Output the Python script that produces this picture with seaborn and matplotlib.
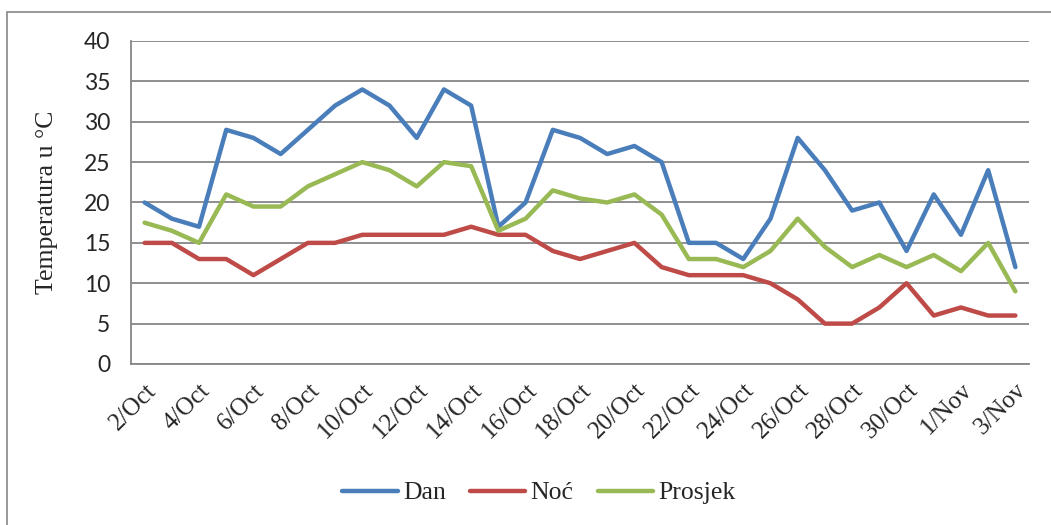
import numpy as np
import pandas as pd
import matplotlib
matplotlib.use("Agg")
import matplotlib.pyplot as plt
import matplotlib.transforms as mtransforms
import seaborn as sns
from matplotlib.patches import Rectangle

# dates 2/Oct .. 3/Nov
days = [f"{d}/Oct" for d in range(2, 32)] + [f"{d}/Nov" for d in range(1, 4)]

dan = [20, 18, 17, 29, 28, 26, 29, 32, 34, 32, 28, 34, 32, 17, 20, 29, 28,
       26, 27, 25, 15, 15, 13, 18, 28, 24, 19, 20, 14, 21, 16, 24, 12]
noc = [15, 15, 13, 13, 11, 13, 15, 15, 16, 16, 16, 16, 17, 16, 16, 14, 13,
       14, 15, 12, 11, 11, 11, 10, 8, 5, 5, 7, 10, 6, 7, 6, 6]
prosjek = [17.5, 16.5, 15, 21, 19.5, 19.5, 22, 23.5, 25, 24, 22, 25, 24.5, 16.5,
           18, 21.5, 20.5, 20, 21, 18.5, 13, 13, 12, 14, 18, 14.5, 12, 13.5, 12,
           13.5, 11.5, 15, 9]

series_names = ["Dan", "Noć", "Prosjek"]
colors = ["#4A7EBB", "#BE4B48", "#98B954"]

df = pd.DataFrame({"idx": np.arange(len(days)), "Dan": dan, "Noć": noc, "Prosjek": prosjek})
long_df = df.melt(id_vars="idx", var_name="serija", value_name="temp")

sns.set_style("white")
fig = plt.figure(figsize=(10.51, 5.25), dpi=100)
ax = fig.add_axes([131 / 1051, 1 - 364 / 525, 898 / 1051, 323 / 525])

# outer chart frame (only left and top edges visible)
fig.patches.append(Rectangle((7 / 1051, -0.1), 1.2, 1 - 12 / 525 + 0.1,
                             transform=fig.transFigure, fill=False,
                             edgecolor="#868686", linewidth=1.2))

sns.lineplot(data=long_df, x="idx", y="temp", hue="serija", hue_order=series_names,
             palette=colors, linewidth=3.2, ax=ax, legend=True)

grid_c = "#868686"
serif = "Liberation Serif"
ax.set_xlim(-0.5, len(days) - 0.5)
ax.set_ylim(0, 40)
ax.set_yticks(range(0, 41, 5))
ax.yaxis.grid(True, color=grid_c, linewidth=1.3)
ax.set_axisbelow(True)
for s in ["top", "right"]:
    ax.spines[s].set_visible(False)
for s in ["left", "bottom"]:
    ax.spines[s].set_color(grid_c)
    ax.spines[s].set_linewidth(1.3)

ax.tick_params(axis="y", length=6, width=1.3, color=grid_c, labelsize=16.5, pad=9)
for t in ax.get_yticklabels():
    t.set_fontfamily("Lato")

# labels every second day, tick marks at category boundaries
ax.set_xticks(np.arange(0, len(days), 2))
ax.set_xticklabels(days[::2], rotation=45, ha="right", va="top",
                   rotation_mode="anchor", fontfamily=serif, fontsize=18)
shift = mtransforms.ScaledTranslation(-5 / 100, 0, fig.dpi_scale_trans)
for t in ax.get_xticklabels():
    t.set_transform(t.get_transform() + shift)
ax.set_xticks(np.arange(-0.5, len(days) - 0.5, 2), minor=True)
ax.tick_params(axis="x", which="major", length=0, pad=11)
ax.tick_params(axis="x", which="minor", length=6, width=1.3, color=grid_c)

ax.set_xlabel("")
ax.set_ylabel("Temperatura u °C", fontfamily=serif, fontsize=18.5)
ax.yaxis.set_label_coords(-0.0813, 0.5)

handles, labels = ax.get_legend_handles_labels()
ax.get_legend().remove()
fig.legend(handles, labels, loc="center", bbox_to_anchor=(539 / 1051, 1 - 493 / 525),
           ncol=3, frameon=False, prop={"family": serif, "size": 18.5},
           handlelength=2.15, handletextpad=0.2, columnspacing=0.95)

fig.savefig("out.png", dpi=100)
